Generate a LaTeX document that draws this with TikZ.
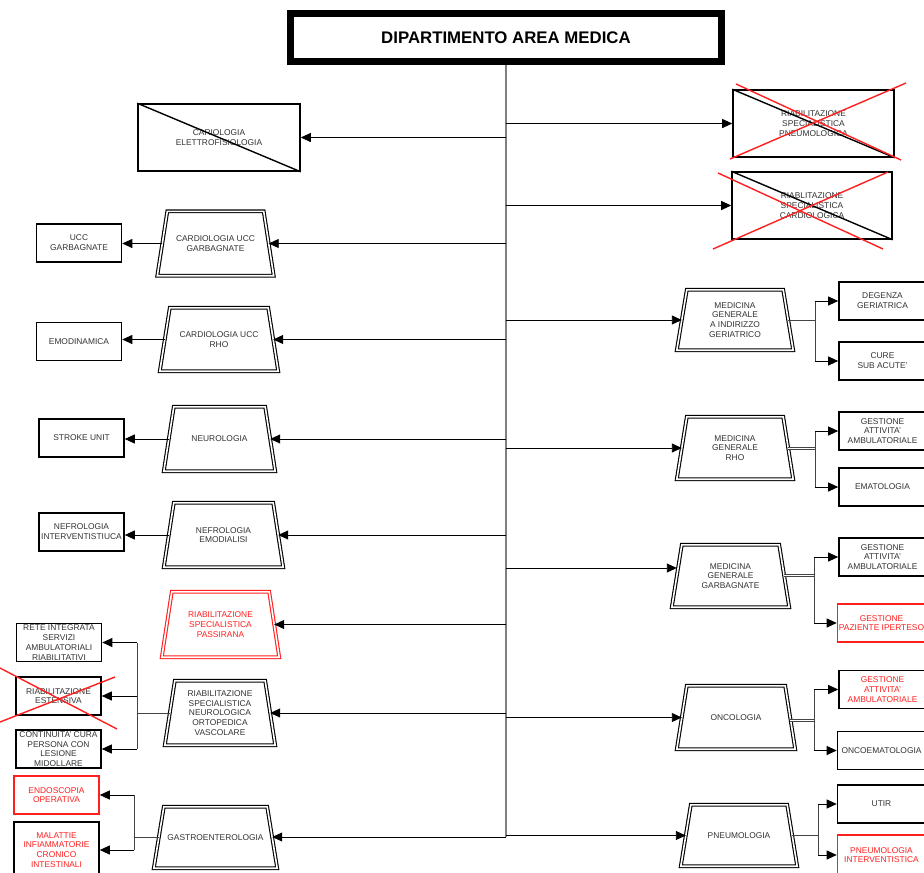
\documentclass[tikz,border=0pt]{standalone}
\usepackage{fontspec}
\setmainfont{Liberation Sans}
\usetikzlibrary{positioning}
\usetikzlibrary{arrows.meta}
\definecolor{txtgrey}{HTML}{333333}
\definecolor{linegrey}{HTML}{444444}
\definecolor{crossred}{HTML}{FF1F1F}

\tikzset{
	small/.style={font=\fontsize{8.4}{9.8}\selectfont},
	unit/.style={draw, line width=1.6pt, small, text=txtgrey, align=center, inner sep=1pt, minimum width=85, minimum height=38},
	wardline/.style={line width=1.1pt, double=white, double distance=1.6pt, line join=miter},
	ward/.style={small, text=txtgrey, align=center, inner sep=1pt,
		append after command={\pgfextra{\draw[wardline, draw=#1]
			([xshift=5pt]\tikzlastnode.north west) -- ([xshift=-5pt]\tikzlastnode.north east) --
			([xshift=5pt]\tikzlastnode.south east) -- ([xshift=-5pt]\tikzlastnode.south west) -- cycle;}}},
	ward/.default=black,
	redtxt/.style={text=crossred},
	redbox/.style={draw=crossred},
	head/.style={draw, line width=7pt, minimum width=431, minimum height=47.5, inner sep=0pt, font=\fontsize{16.8}{18}\selectfont\bfseries},
	spine/.style={draw=gray, line width=1.2pt},
	link/.style={draw=linegrey, line width=0.9pt},
	dlink/.style={draw=linegrey, line width=1pt, double=white, double distance=1pt},
	arr/.style={draw=black, line width=0.9pt, -{Triangle[length=10pt,width=9pt]}},
	strike/.style={draw=crossred, line width=1.4pt},
	diag/.style={draw=black, line width=1.4pt}
}

\begin{document}
\begin{tikzpicture}[x=1pt,y=-1pt]
	\useasboundingbox[fill=white] (0,0) rectangle (924,873);
	%% head
	\node[head] (dip) at (506,37.25) {DIPARTIMENTO AREA MEDICA};
	\coordinate (spB) at (506,837);
	\draw[spine] (dip.south) -- (spB);

	%% left column
	\node[unit, minimum width=162, minimum height=67] (bCEF) at (219,137.5) {CARIOLOGIA\\ELETTROFISIOLOGIA};
	\node[ward, minimum width=106, minimum height=64] (tUCCG) at (215.5,243.5) {CARDIOLOGIA UCC\\GARBAGNATE};
	\node[unit] (bUCC) at (79,243) {UCC\\GARBAGNATE};
	\node[ward, minimum width=108, minimum height=63] (tUCCR) at (219,339.5) {CARDIOLOGIA UCC\\RHO};
	\node[unit] (bEMO) at (79,341.5) {EMODINAMICA};
	\node[ward, minimum width=101, minimum height=64] (tNEURO) at (219.5,439) {NEUROLOGIA};
	\node[unit] (bSTROKE) at (81.5,438) {STROKE UNIT};
	\node[ward, minimum width=109, minimum height=64] (tNEFRO) at (223.5,535) {NEFROLOGIA\\EMODIALISI};
	\node[unit] (bNEFINT) at (81.5,532) {NEFROLOGIA\\INTERVENTISTIUCA};
	\node[ward=crossred, redtxt, minimum width=107, minimum height=65] (tPASS) at (220.5,624.5) {RIABILITAZIONE\\SPECIALISTICA\\PASSIRANA};
	\node[ward, minimum width=100, minimum height=64] (tRIAB) at (220,713) {RIABILITAZIONE\\SPECIALISTICA\\NEUROLOGICA\\ORTOPEDICA\\VASCOLARE};
	\node[unit] (bRETE) at (59,642.5) {RETE INTEGRATA\\SERVIZI\\AMBULATORIALI\\RIABILITATIVI};
	\node[unit] (bEST) at (58.5,696) {RIABILITAZIONE\\ESTENSIVA};
	\node[unit] (bCONT) at (58.5,749) {CONTINUITA' CURA\\PERSONA CON\\LESIONE\\MIDOLLARE};
	\node[ward, minimum width=113, minimum height=61] (tGASTRO) at (215.5,837.5) {GASTROENTEROLOGIA};
	\node[unit, redbox, redtxt] (bENDO) at (56.5,795) {ENDOSCOPIA\\OPERATIVA};
	\node[unit, redtxt, minimum height=56] (bMICI) at (56.5,850) {MALATTIE\\INFIAMMATORIE\\CRONICO\\INTESTINALI};

	%% right column
	\node[unit, minimum width=161, minimum height=67] (bRSP) at (813.5,123.5) {RIABILITAZIONE\\SPECIALISTICA\\PNEUMOLOGICA};
	\node[unit, minimum width=160, minimum height=67] (bRSC) at (812,205.5) {RIABLITAZIONE\\SPECIALISTICA\\CARDIOLOGICA};
	\node[ward, minimum width=106, minimum height=60] (tMGG) at (735,320) {MEDICINA\\GENERALE\\A INDIRIZZO\\GERIATRICO};
	\node[unit, minimum width=87] (bDEG) at (882.5,301) {DEGENZA\\GERIATRICA};
	\node[unit, minimum width=87] (bCURE) at (882.5,361) {CURE\\SUB ACUTE'};
	\node[ward, minimum width=106, minimum height=62] (tMGR) at (735,448) {MEDICINA\\GENERALE\\RHO};
	\node[unit, minimum width=87] (bGAA1) at (882.5,431) {GESTIONE\\ATTIVITA'\\AMBULATORIALE};
	\node[unit, minimum width=87] (bEMAT) at (882.5,487) {EMATOLOGIA};
	\node[ward, minimum width=107, minimum height=62] (tMGGB) at (730.5,576) {MEDICINA\\GENERALE\\GARBAGNATE};
	\node[unit, minimum width=87] (bGAA2) at (882.5,557) {GESTIONE\\ATTIVITA'\\AMBULATORIALE};
	\node[unit, redbox, redtxt, minimum width=88] (bIPER) at (881.5,623) {GESTIONE\\PAZIENTE IPERTESO};
	\node[ward, minimum width=108, minimum height=63] (tONCO) at (736,717.5) {ONCOLOGIA};
	\node[unit, redtxt, minimum width=87] (bGAA3) at (882.5,689.5) {GESTIONE\\ATTIVITA'\\AMBULATORIALE};
	\node[unit, minimum width=88] (bONCOEM) at (881.5,750.5) {ONCOEMATOLOGIA};
	\node[ward, minimum width=106, minimum height=61] (tPNEUMO) at (739,835.5) {PNEUMOLOGIA};
	\node[unit, minimum width=88] (bUTIR) at (881.5,804) {UTIR};
	\node[unit, redbox, redtxt, minimum width=88, minimum height=40] (bPNINT) at (881.5,855) {PNEUMOLOGIA\\INTERVENTISTICA};

	%% spine to wards
	\coordinate (aMGGB) at ([yshift=8pt]tMGGB.west);
	\draw[arr] (dip.south |- bCEF.east) -- (bCEF.east);
	\draw[arr] (dip.south |- tUCCG.east) -- (tUCCG.east);
	\draw[arr] (dip.south |- tUCCR.east) -- (tUCCR.east);
	\draw[arr] (dip.south |- tNEURO.east) -- (tNEURO.east);
	\draw[arr] (dip.south |- tNEFRO.east) -- (tNEFRO.east);
	\draw[arr] (dip.south |- tPASS.east) -- (tPASS.east);
	\draw[arr] (dip.south |- tRIAB.east) -- (tRIAB.east);
	\draw[arr] (spB) -- (spB -| tGASTRO.east);
	\draw[arr] (dip.south |- bRSP.west) -- (bRSP.west);
	\draw[arr] (dip.south |- bRSC.west) -- (bRSC.west);
	\draw[arr] (dip.south |- tMGG.west) -- (tMGG.west);
	\draw[arr] (dip.south |- tMGR.west) -- (tMGR.west);
	\draw[arr] (dip.south |- aMGGB) -- (aMGGB);
	\draw[arr] (dip.south |- tONCO.west) -- (tONCO.west);
	\draw[arr] (dip.south |- tPNEUMO.west) -- (tPNEUMO.west);

	%% left units
	\draw[arr] (tUCCG.west) -- (tUCCG.west -| bUCC.east);
	\draw[arr] (tUCCR.west) -- (tUCCR.west -| bEMO.east);
	\draw[arr] (tNEURO.west) -- (tNEURO.west -| bSTROKE.east);
	\draw[arr] (tNEFRO.west) -- (tNEFRO.west -| bNEFINT.east);
	\coordinate (gRIAB) at (137,713);
	\draw[link] (tRIAB.west) -- (gRIAB);
	\draw[link] (gRIAB |- bRETE.east) -- (gRIAB |- bCONT.east);
	\draw[arr] (gRIAB |- bRETE.east) -- (bRETE.east);
	\draw[arr] (gRIAB |- bEST.east) -- (bEST.east);
	\draw[arr] (gRIAB |- bCONT.east) -- (bCONT.east);
	\coordinate (gGASTRO) at (134,837.5);
	\draw[link] (tGASTRO.west) -- (gGASTRO);
	\draw[link] (gGASTRO |- bENDO.east) -- (gGASTRO |- bMICI.east);
	\draw[arr] (gGASTRO |- bENDO.east) -- (bENDO.east);
	\draw[arr] (gGASTRO |- bMICI.east) -- (bMICI.east);

	%% right units
	\coordinate (gMGG) at (815,320);
	\draw[link] (tMGG.east) -- (gMGG);
	\draw[link] (gMGG |- bDEG.west) -- (gMGG |- bCURE.west);
	\draw[arr] (gMGG |- bDEG.west) -- (bDEG.west);
	\draw[arr] (gMGG |- bCURE.west) -- (bCURE.west);
	\coordinate (gMGR) at (815,448.5);
	\draw[dlink] (tMGR.east |- gMGR) -- (gMGR);
	\draw[link] (gMGR |- bGAA1.west) -- (gMGR |- bEMAT.west);
	\draw[arr] (gMGR |- bGAA1.west) -- (bGAA1.west);
	\draw[arr] (gMGR |- bEMAT.west) -- (bEMAT.west);
	\coordinate (gMGGB) at (814,575.5);
	\draw[dlink] (tMGGB.east |- gMGGB) -- (gMGGB);
	\draw[link] (gMGGB |- bGAA2.west) -- (gMGGB |- bIPER.west);
	\draw[arr] (gMGGB |- bGAA2.west) -- (bGAA2.west);
	\draw[arr] (gMGGB |- bIPER.west) -- (bIPER.west);
	\coordinate (gONCO) at (814,720.5);
	\draw[dlink] (tONCO.east |- gONCO) -- (gONCO);
	\draw[link] (gONCO |- bGAA3.west) -- (gONCO |- bONCOEM.west);
	\draw[arr] (gONCO |- bGAA3.west) -- (bGAA3.west);
	\draw[arr] (gONCO |- bONCOEM.west) -- (bONCOEM.west);
	\coordinate (gPNEUMO) at (818,835.5);
	\draw[link] (tPNEUMO.east) -- (gPNEUMO);
	\draw[link] (gPNEUMO |- bUTIR.west) -- (gPNEUMO |- bPNINT.west);
	\draw[arr] (gPNEUMO |- bUTIR.west) -- (bUTIR.west);
	\draw[arr] (gPNEUMO |- bPNINT.west) -- (bPNINT.west);

	%% closed units
	\draw[diag] (bCEF.north west) -- (bCEF.south east);
	\draw[diag] (bRSP.north west) -- (bRSP.south east);
	\draw[diag] (bRSC.north west) -- (bRSC.south east);
	\draw[strike] (736,84) -- (901,160);
	\draw[strike] (730,159) -- (906,83);
	\draw[strike] (718,173) -- (883,249);
	\draw[strike] (713,249) -- (888,172);
	\draw[strike] (0,668) -- (117,729);
	\draw[strike] (0,722) -- (115,677);
\end{tikzpicture}
\end{document}
